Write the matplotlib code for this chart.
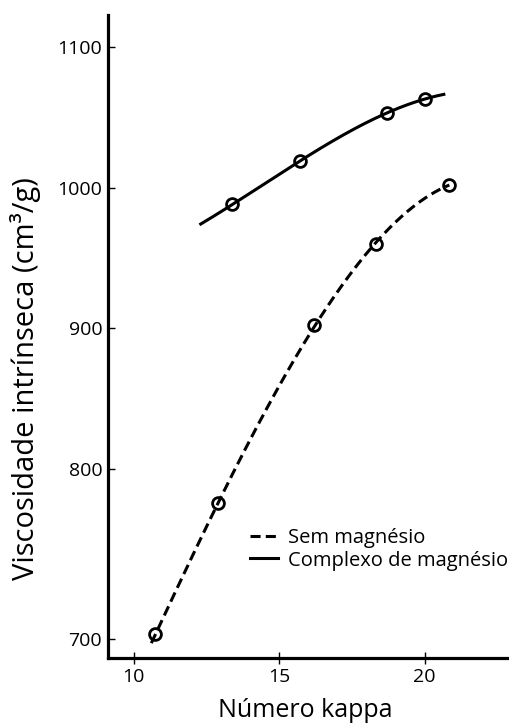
import numpy as np
import matplotlib
matplotlib.use("Agg")
import matplotlib.pyplot as plt

plt.rcParams['font.family'] = ['Open Sans', 'DejaVu Sans']

# Measured intrinsic viscosity vs. kappa number
kappa_sem = [10.74, 12.91, 16.20, 18.32, 20.85]
visc_sem = [703, 780, 902, 960, 1002]
kappa_mg = [13.39, 15.72, 18.70, 20.02]
visc_mg = [988, 1019, 1053, 1063]

# extent of the smoothed trend curves
curve_sem_range = (10.6, 20.85)
curve_mg_range = (12.3, 20.66)

labels = ["Sem magnésio", "Complexo de magnésio"]
xticks = [10, 15, 20]
yticks = [700, 800, 900, 1000, 1100]

# the vertical axis is stretched below 800
BREAK = 800.0
STRETCH = 1.21


def fwd(y):
    y = np.asarray(y, dtype=float)
    return np.where(y >= BREAK, y, BREAK - (BREAK - y) * STRETCH)


def inv(t):
    t = np.asarray(t, dtype=float)
    return np.where(t >= BREAK, t, BREAK - (BREAK - t) / STRETCH)


def trend(x, y, rng, deg):
    # smooth fit in display space so the curve has no kink at the break
    c = np.polyfit(x, fwd(y), deg)
    xs = np.linspace(rng[0], rng[1], 200)
    return xs, inv(np.polyval(c, xs))


fig = plt.figure(figsize=(5.09, 7.24), dpi=100)
ax = fig.add_axes([0.2116, 0.0912, 0.794, 0.888])
ax.set_yscale('function', functions=(fwd, inv))

dash = (0, (3.3, 1.7))
xs, ys = trend(kappa_sem, visc_sem, curve_sem_range, 3)
ax.plot(xs, ys, color='black', lw=2.2, ls=dash, label=labels[0])
xs, ys = trend(kappa_mg, visc_mg, curve_mg_range, 3)
ax.plot(xs, ys, color='black', lw=2.2, ls='-', label=labels[1])

ax.plot(kappa_sem, visc_sem, 'o', ms=8.5, mfc='none', mec='black', mew=2.0)
ax.plot(kappa_mg, visc_mg, 'o', ms=8.5, mfc='none', mec='black', mew=2.0)

ax.set_xlim(9.1, 23.0)
ax.set_ylim(689, 1122.6)
ax.set_xticks(xticks)
ax.set_yticks(yticks)
ax.minorticks_off()

for side in ('top', 'right'):
    ax.spines[side].set_visible(False)
for side in ('left', 'bottom'):
    ax.spines[side].set_linewidth(2.3)

ax.tick_params(axis='x', direction='inout', length=9, width=1.0, labelsize=14, pad=3)
ax.tick_params(axis='y', direction='in', length=5, width=1.0, labelsize=14, pad=4)

ax.set_xlabel("Número kappa", fontsize=18)
ax.set_ylabel("Viscosidade intrínseca (cm³/g)", fontsize=21)
ax.yaxis.set_label_coords(-0.165, 0.434)
ax.xaxis.set_label_coords(0.49, -0.062)

ax.legend(loc='upper left', bbox_to_anchor=(0.352, 0.202), frameon=False,
          fontsize=14.5, handlelength=1.4, handletextpad=0.5, labelspacing=0.12,
          borderaxespad=0, borderpad=0)

fig.savefig("out.png", dpi=100)
